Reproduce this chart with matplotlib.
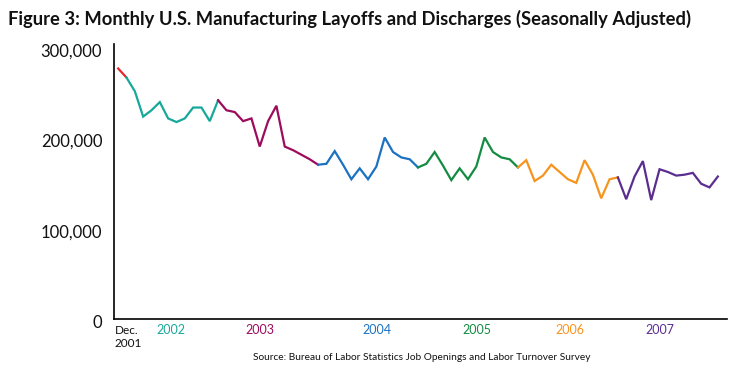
import matplotlib
matplotlib.use("Agg")
import matplotlib.pyplot as plt
import matplotlib.transforms as mtransforms

# monthly layoffs and discharges, Dec 2001 .. Dec 2007
layoffs = [276, 266, 251, 223, 230, 239, 221, 217, 221, 233, 233, 218,
           241, 230, 228, 218, 221, 190, 218, 235, 190, 186, 181, 176,
           170, 171, 185, 170, 154, 166, 154, 168, 200, 184, 178, 176,
           167, 171, 184, 169, 153, 166, 154, 168, 200, 184, 178, 176,
           167, 175, 152, 158, 170, 162, 154, 150, 175, 159, 133, 154,
           156, 132, 157, 174, 131, 165, 162, 158, 159, 161, 149, 145, 157]
layoffs = [v * 1000 for v in layoffs]

# segments by year: (start index, end index, colour)
segments = [(0, 1, "#e8262b"),
            (1, 12, "#17a89b"),
            (12, 24, "#9c0c5c"),
            (24, 36, "#1b72c1"),
            (36, 48, "#138c42"),
            (48, 60, "#f7941d"),
            (60, 72, "#5c2d91")]
years = ["2002", "2003", "2004", "2005", "2006", "2007"]
year_pos = [6.3, 17.0, 31.1, 43.1, 54.2, 65.0]

yticks = [0, 100000, 200000, 300000]
ytick_labels = ["0", "100,000", "200,000", "300,000"]

fig = plt.figure(figsize=(7.51, 3.73), dpi=100)
ax = fig.add_axes([114 / 751, 1 - 319 / 373, (727 - 114) / 751, (319 - 44) / 373])

for s, e, c in segments:
    xs = list(range(s, e + 1))
    ax.plot(xs, layoffs[s:e + 1], color=c, lw=1.6, solid_joinstyle="miter")

ax.set_xlim(-0.5, 73.1)
ax.set_ylim(0, 303000)
for side in ["top", "right"]:
    ax.spines[side].set_visible(False)
ax.spines["left"].set_linewidth(1.2)
ax.spines["bottom"].set_linewidth(1.2)
ax.set_xticks([])
ax.set_yticks(yticks)
ax.set_yticklabels(ytick_labels, family="Lato", fontsize=12, color="#111111")
ax.tick_params(axis="y", length=0, pad=8.5)
shift = mtransforms.ScaledTranslation(0, -3 / 100, fig.dpi_scale_trans)
for lbl in ax.get_yticklabels():
    lbl.set_transform(lbl.get_transform() + shift)

trans = mtransforms.blended_transform_factory(ax.transData, ax.transAxes)
for yr, xp, (s, e, c) in zip(years, year_pos, segments[1:]):
    ax.text(xp, -0.02, yr, transform=trans, ha="center", va="top",
            color=c, family="Lato", fontsize=9)
ax.text(-0.45, -0.02, "Dec.\n2001", transform=trans, ha="left", va="top",
        color="#111111", family="Lato", fontsize=8.5, linespacing=1.3)

fig.text(8 / 751, 1 - 19 / 373, "Figure 3: Monthly U.S. Manufacturing Layoffs and Discharges (Seasonally Adjusted)",
         family="Lato", fontweight="bold",
         fontsize=13.2, va="center", ha="left", color="#111111")
fig.text(422 / 751, 1 - 358 / 373, "Source: Bureau of Labor Statistics Job Openings and Labor Turnover Survey",
         family="Lato", fontsize=7.3,
         va="center", ha="center", color="#111111")

fig.savefig("out.png", dpi=100)
